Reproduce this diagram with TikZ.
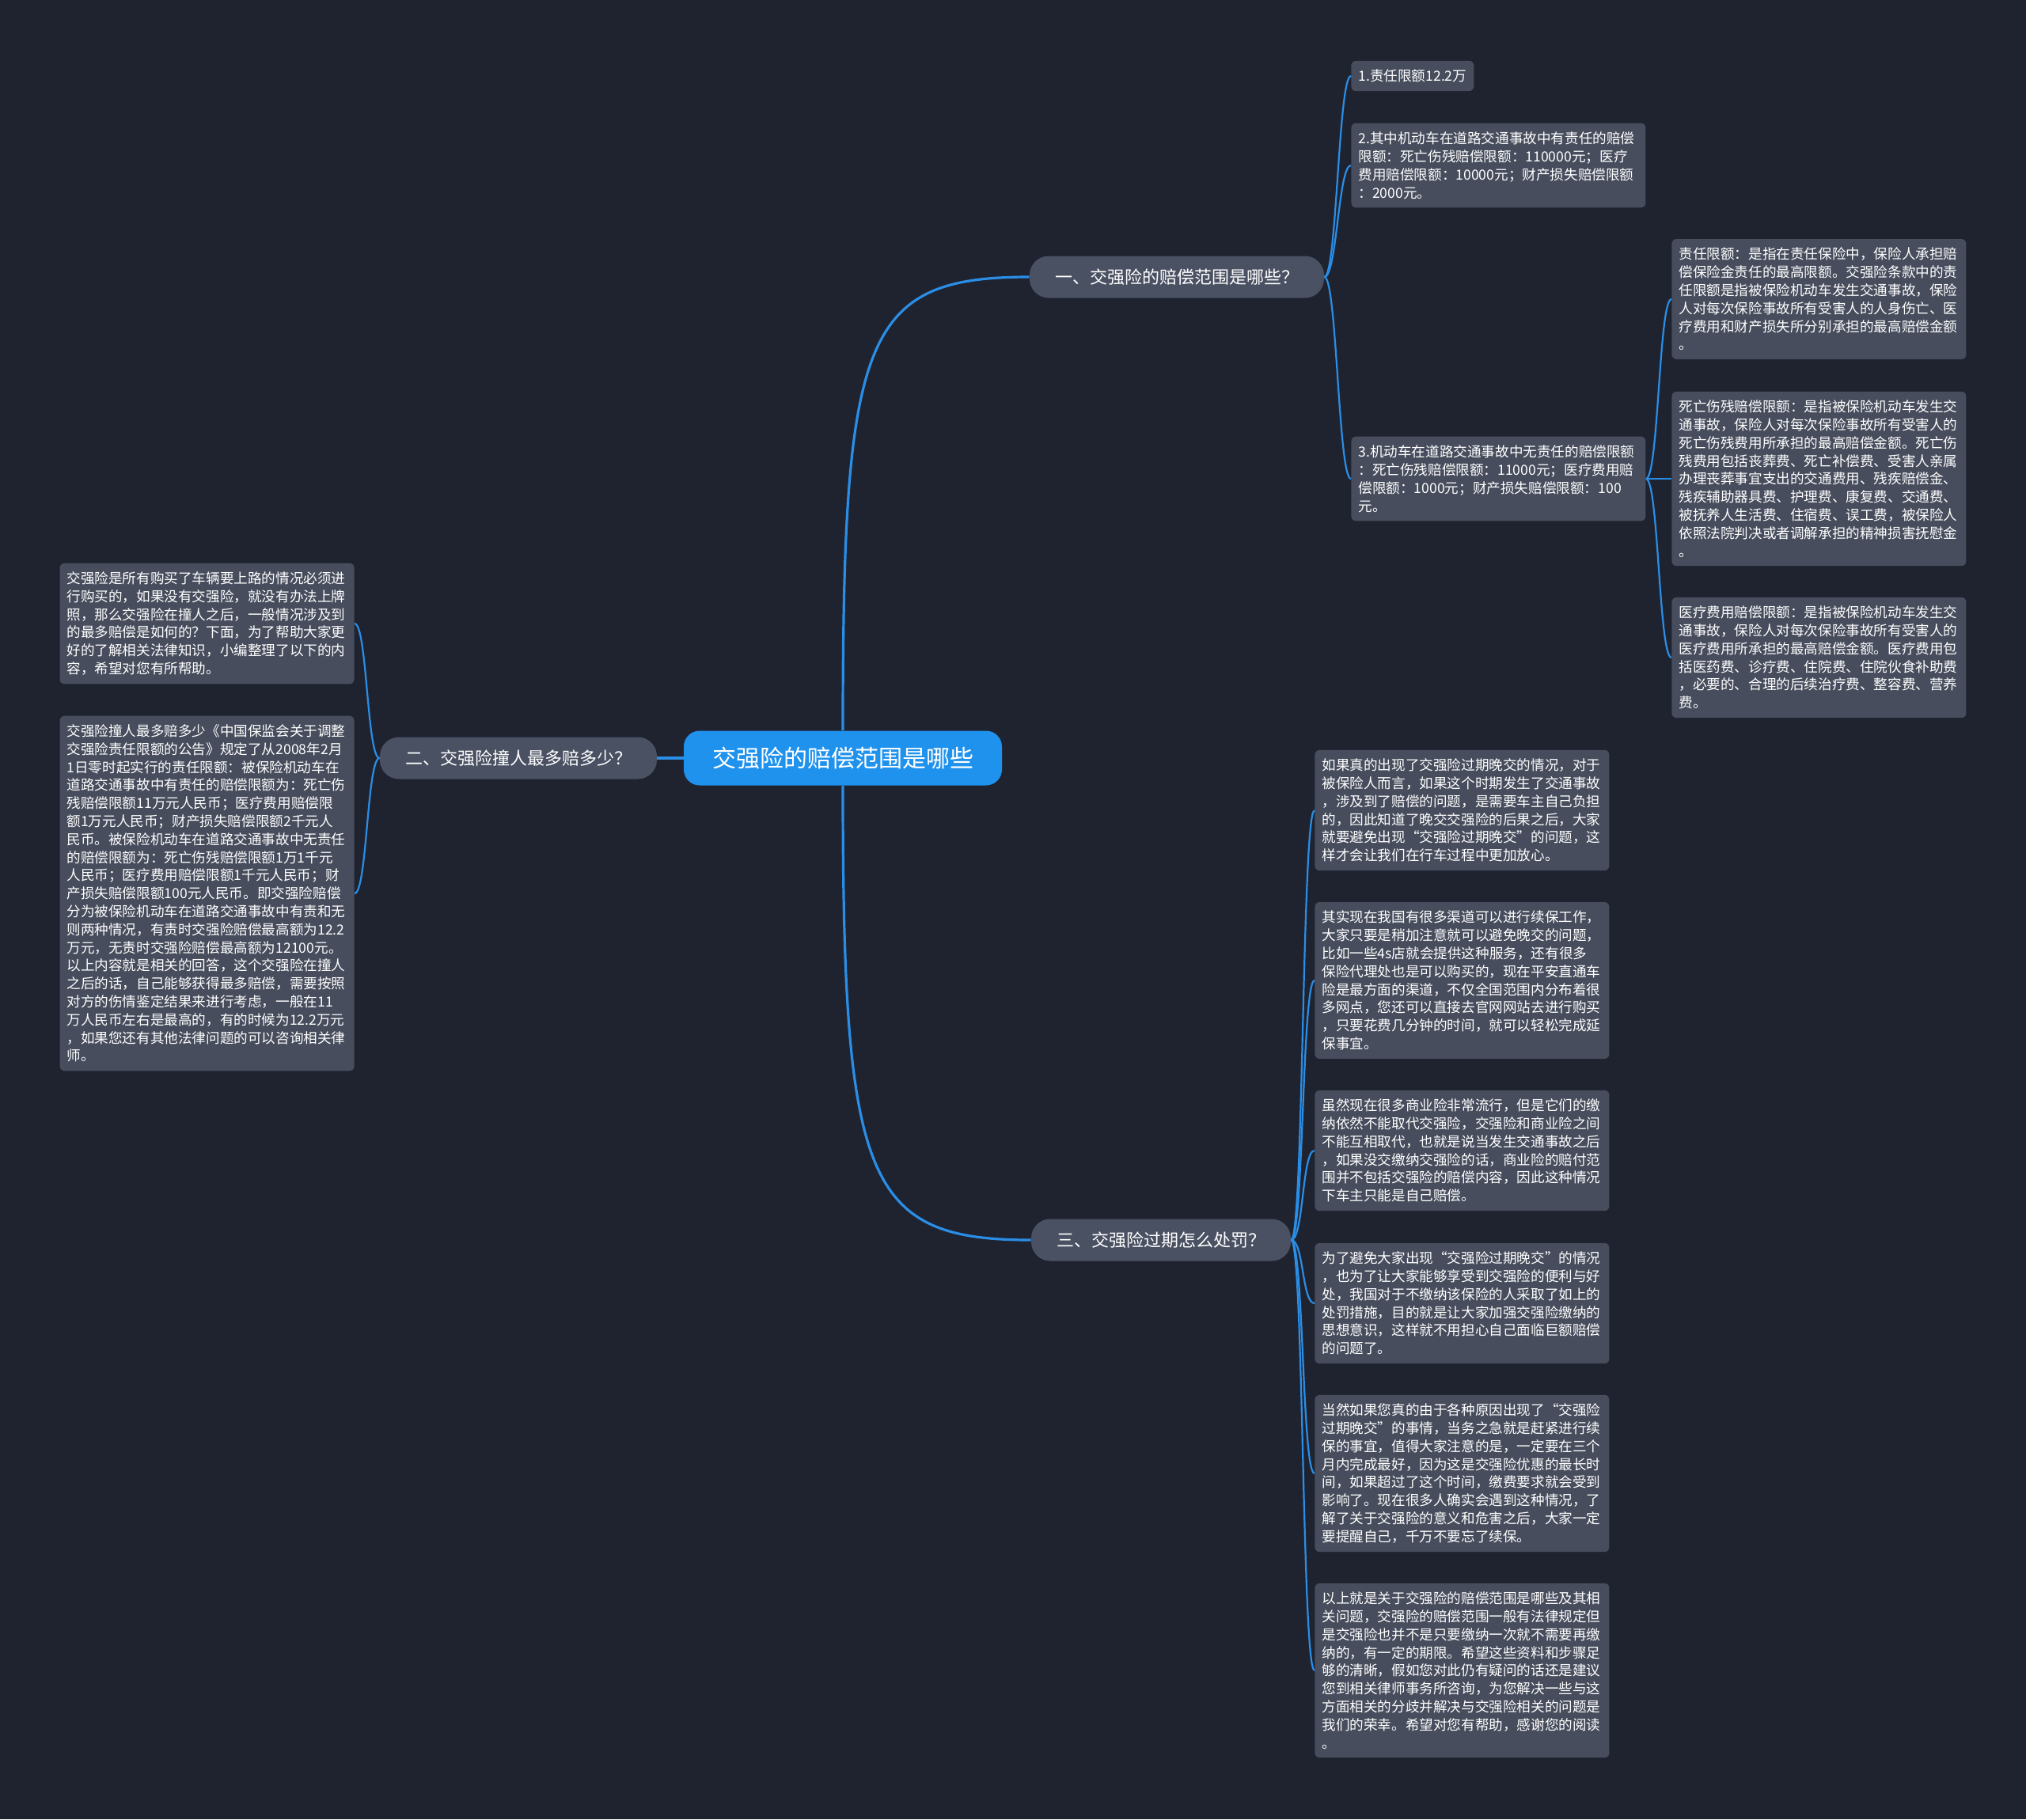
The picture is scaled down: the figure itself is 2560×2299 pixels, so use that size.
\documentclass[tikz,border=0pt]{standalone}
\usepackage{fontspec}
\setmainfont{Noto Sans CJK SC}
\definecolor{bgnavy}{HTML}{1F2330}
\definecolor{boxgray}{HTML}{474D5D}
\definecolor{topicgray}{HTML}{4A5163}
\definecolor{rootblue}{HTML}{1F92EE}
\definecolor{linkblue}{HTML}{2A8EE6}
\tikzset{
  root/.style={fill=rootblue, text=white, rounded corners=10pt, font=\fontsize{15}{18}\selectfont,
    inner xsep=18pt, minimum height=34.5pt},
  topic/.style={fill=topicgray, text=white, rounded corners=12pt, font=\fontsize{11}{13}\selectfont,
    inner xsep=16pt, minimum height=26.5pt},
  leaf/.style={fill=boxgray, text=white, rounded corners=3pt, font=\fontsize{8.8}{11.4}\selectfont,
    align=left, inner xsep=4.5pt, inner ysep=5.5pt},
  note/.style={leaf, text width=177pt},
  link/.style={draw=linkblue, line width=1.6pt},
  twig/.style={draw=linkblue, line width=1.1pt},
}
\begin{document}
\begin{tikzpicture}[x=0.5pt,y=-0.5pt]
\fill[bgnavy] (0,0) rectangle (2560,2299);
\useasboundingbox (0,0) rectangle (2560,2299);

% centre and main topics
\node[root] (hub) at (1065,958) {交强险的赔偿范围是哪些};
\node[topic] (scope) at (1487,350) {一、交强险的赔偿范围是哪些？};
\node[topic] (most) at (655,958) {二、交强险撞人最多赔多少？};
\node[topic] (late) at (1467,1567) {三、交强险过期怎么处罚？};

\draw[link] (hub.north) .. controls +(0,-500) and +(-210,0) .. (scope.west);
\draw[link] (hub.west) -- (most.east);
\draw[link] (hub.south) .. controls +(0,500) and +(-210,0) .. (late.west);

% branch one
\node[leaf, anchor=west] (lim) at (1707,96) {1.责任限额12.2万};
\node[note, anchor=west] (fault) at (1707,209) {2.其中机动车在道路交通事故中有责任的赔偿\\限额：死亡伤残赔偿限额：110000元；医疗\\费用赔偿限额：10000元；财产损失赔偿限额\\：2000元。};
\node[note, anchor=west] (nofault) at (1707,605) {3.机动车在道路交通事故中无责任的赔偿限额\\：死亡伤残赔偿限额：11000元；医疗费用赔\\偿限额：1000元；财产损失赔偿限额：100\\元。};
\foreach \kid in {lim,fault,nofault}
  \draw[twig] (scope.east) .. controls +(16,0) and +(-16,0) .. (\kid.west);

\node[note, anchor=west] (defA) at (2112,378) {责任限额：是指在责任保险中，保险人承担赔\\偿保险金责任的最高限额。交强险条款中的责\\任限额是指被保险机动车发生交通事故，保险\\人对每次保险事故所有受害人的人身伤亡、医\\疗费用和财产损失所分别承担的最高赔偿金额\\。};
\node[note, anchor=west] (defB) at (2112,605) {死亡伤残赔偿限额：是指被保险机动车发生交\\通事故，保险人对每次保险事故所有受害人的\\死亡伤残费用所承担的最高赔偿金额。死亡伤\\残费用包括丧葬费、死亡补偿费、受害人亲属\\办理丧葬事宜支出的交通费用、残疾赔偿金、\\残疾辅助器具费、护理费、康复费、交通费、\\被抚养人生活费、住宿费、误工费，被保险人\\依照法院判决或者调解承担的精神损害抚慰金\\。};
\node[note, anchor=west] (defC) at (2112,831) {医疗费用赔偿限额：是指被保险机动车发生交\\通事故，保险人对每次保险事故所有受害人的\\医疗费用所承担的最高赔偿金额。医疗费用包\\括医药费、诊疗费、住院费、住院伙食补助费\\，必要的、合理的后续治疗费、整容费、营养\\费。};
\foreach \kid in {defA,defB,defC}
  \draw[twig] (nofault.east) .. controls +(16,0) and +(-16,0) .. (\kid.west);

% branch two
\node[note, anchor=east] (intro) at (448,788) {交强险是所有购买了车辆要上路的情况必须进\\行购买的，如果没有交强险，就没有办法上牌\\照，那么交强险在撞人之后，一般情况涉及到\\的最多赔偿是如何的？下面，为了帮助大家更\\好的了解相关法律知识，小编整理了以下的内\\容，希望对您有所帮助。};
\node[note, anchor=east] (answer) at (448,1129) {交强险撞人最多赔多少《中国保监会关于调整\\交强险责任限额的公告》规定了从2008年2月\\1日零时起实行的责任限额：被保险机动车在\\道路交通事故中有责任的赔偿限额为：死亡伤\\残赔偿限额11万元人民币；医疗费用赔偿限\\额1万元人民币；财产损失赔偿限额2千元人\\民币。被保险机动车在道路交通事故中无责任\\的赔偿限额为：死亡伤残赔偿限额1万1千元\\人民币；医疗费用赔偿限额1千元人民币；财\\产损失赔偿限额100元人民币。即交强险赔偿\\分为被保险机动车在道路交通事故中有责和无\\则两种情况，有责时交强险赔偿最高额为12.2\\万元，无责时交强险赔偿最高额为12100元。\\以上内容就是相关的回答，这个交强险在撞人\\之后的话，自己能够获得最多赔偿，需要按照\\对方的伤情鉴定结果来进行考虑，一般在11\\万人民币左右是最高的，有的时候为12.2万元\\，如果您还有其他法律问题的可以咨询相关律\\师。};
\foreach \kid in {intro,answer}
  \draw[twig] (most.west) .. controls +(-16,0) and +(16,0) .. (\kid.east);

% branch three
\node[note, anchor=west] (pen1) at (1661,1024) {如果真的出现了交强险过期晚交的情况，对于\\被保险人而言，如果这个时期发生了交通事故\\，涉及到了赔偿的问题，是需要车主自己负担\\的，因此知道了晚交交强险的后果之后，大家\\就要避免出现“交强险过期晚交”的问题，这\\样才会让我们在行车过程中更加放心。};
\node[note, anchor=west] (pen2) at (1661,1239) {其实现在我国有很多渠道可以进行续保工作，\\大家只要是稍加注意就可以避免晚交的问题，\\比如一些4s店就会提供这种服务，还有很多\\保险代理处也是可以购买的，现在平安直通车\\险是最方面的渠道，不仅全国范围内分布着很\\多网点，您还可以直接去官网网站去进行购买\\，只要花费几分钟的时间，就可以轻松完成延\\保事宜。};
\node[note, anchor=west] (pen3) at (1661,1454) {虽然现在很多商业险非常流行，但是它们的缴\\纳依然不能取代交强险，交强险和商业险之间\\不能互相取代，也就是说当发生交通事故之后\\，如果没交缴纳交强险的话，商业险的赔付范\\围并不包括交强险的赔偿内容，因此这种情况\\下车主只能是自己赔偿。};
\node[note, anchor=west] (pen4) at (1661,1647) {为了避免大家出现“交强险过期晚交”的情况\\，也为了让大家能够享受到交强险的便利与好\\处，我国对于不缴纳该保险的人采取了如上的\\处罚措施，目的就是让大家加强交强险缴纳的\\思想意识，这样就不用担心自己面临巨额赔偿\\的问题了。};
\node[note, anchor=west] (pen5) at (1661,1862) {当然如果您真的由于各种原因出现了“交强险\\过期晚交”的事情，当务之急就是赶紧进行续\\保的事宜，值得大家注意的是，一定要在三个\\月内完成最好，因为这是交强险优惠的最长时\\间，如果超过了这个时间，缴费要求就会受到\\影响了。现在很多人确实会遇到这种情况，了\\解了关于交强险的意义和危害之后，大家一定\\要提醒自己，千万不要忘了续保。};
\node[note, anchor=west] (pen6) at (1661,2111) {以上就是关于交强险的赔偿范围是哪些及其相\\关问题，交强险的赔偿范围一般有法律规定但\\是交强险也并不是只要缴纳一次就不需要再缴\\纳的，有一定的期限。希望这些资料和步骤足\\够的清晰，假如您对此仍有疑问的话还是建议\\您到相关律师事务所咨询，为您解决一些与这\\方面相关的分歧并解决与交强险相关的问题是\\我们的荣幸。希望对您有帮助，感谢您的阅读\\。};
\foreach \kid in {pen1,pen2,pen3,pen4,pen5,pen6}
  \draw[twig] (late.east) .. controls +(16,0) and +(-16,0) .. (\kid.west);
\end{tikzpicture}
\end{document}
